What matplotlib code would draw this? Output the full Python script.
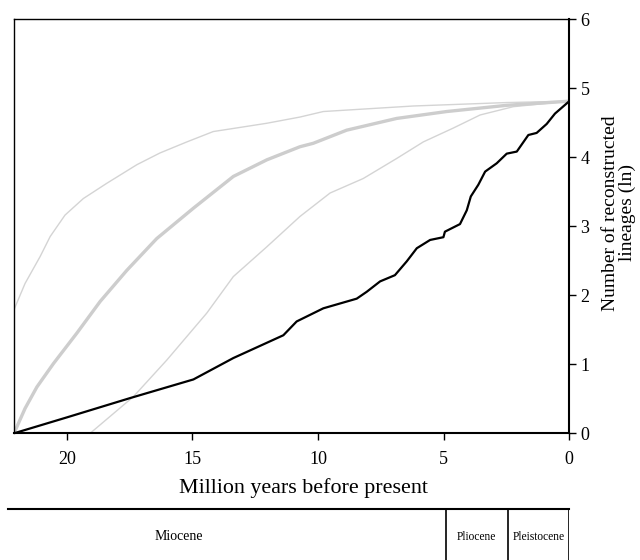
import matplotlib
matplotlib.use("Agg")
import matplotlib.pyplot as plt

plt.rcParams['font.family'] = ['Liberation Serif', 'DejaVu Serif']

# observed lineage-through-time curve (black)
obs_t = [22.1, 20.0, 17.48, 14.96, 13.37, 11.38, 10.85, 9.79, 8.46, 8.06, 7.53, 6.94,
         6.47, 6.07, 5.54, 5.01, 4.95, 4.35, 4.08, 3.92, 3.62, 3.35, 2.89, 2.49, 2.09,
         1.63, 1.30, 0.90, 0.57, 0.0]
obs_y = [0.0, 0.23, 0.51, 0.78, 1.09, 1.42, 1.62, 1.81, 1.95, 2.05, 2.20, 2.29,
         2.49, 2.68, 2.80, 2.84, 2.92, 3.03, 3.23, 3.43, 3.60, 3.79, 3.91, 4.05, 4.08,
         4.32, 4.35, 4.48, 4.63, 4.81]

# simulated upper bound (thin grey)
up_t = [22.1, 21.66, 21.06, 20.66, 20.07, 19.34, 18.41, 17.21, 16.29, 15.22, 14.17,
        13.10, 12.04, 10.72, 9.79, 6.21, 2.49, 0.0]
up_y = [1.79, 2.17, 2.56, 2.85, 3.16, 3.40, 3.62, 3.89, 4.06, 4.22, 4.37,
        4.43, 4.49, 4.58, 4.66, 4.74, 4.79, 4.81]

# simulated median (thick grey)
med_t = [22.1, 21.66, 21.19, 20.53, 19.60, 18.67, 17.61, 16.42, 14.96, 13.37, 12.04,
         10.72, 10.19, 8.86, 6.87, 4.88, 2.49, 0.0]
med_y = [0.0, 0.36, 0.67, 1.01, 1.45, 1.91, 2.36, 2.82, 3.26, 3.72, 3.96,
         4.15, 4.20, 4.39, 4.56, 4.66, 4.75, 4.81]

# simulated lower bound (thin grey)
low_t = [19.07, 17.35, 16.02, 14.43, 13.37, 12.04, 10.72, 9.52, 8.20, 6.87, 5.81,
         4.62, 3.55, 2.23, 0.0]
low_y = [0.0, 0.53, 1.06, 1.74, 2.27, 2.70, 3.14, 3.48, 3.69, 3.98, 4.22,
         4.42, 4.61, 4.73, 4.81]

epochs = ['Miocene', 'Pliocene', 'Pleistocene']
epoch_bounds = [22.32, 4.92, 2.43, 0.0]
epoch_label_t = [15.55, 3.68, 1.2]

fig = plt.figure(figsize=(6.4, 5.6), dpi=100)
ax = fig.add_axes([14 / 640, 1 - 433.3 / 560, 555.3 / 640, 414.3 / 560])

ax.plot(up_t, up_y, color='#d4d4d4', lw=1.0)
ax.plot(low_t, low_y, color='#d4d4d4', lw=1.0)
ax.plot(med_t, med_y, color='#cdcdcd', lw=2.4)
ax.plot(obs_t, obs_y, color='black', lw=1.6)

ax.set_xlim(22.1, 0)
ax.set_ylim(0, 6)
ax.set_xticks([20, 15, 10, 5, 0])
ax.set_yticks(range(7))
ax.yaxis.tick_right()
ax.yaxis.set_label_position('right')
ax.tick_params(direction='out', length=5, width=1, labelsize=13, pad=8)
ax.tick_params(axis='y', pad=3)
for s in ax.spines.values():
    s.set_linewidth(1.0)
ax.spines['right'].set_linewidth(1.5)
ax.spines['bottom'].set_linewidth(1.5)
ax.set_xlabel('Million years before present', fontsize=15.8, labelpad=7)
ax.xaxis.label.set_x(0.522)
ax.set_ylabel('Number of reconstructed\nlineages (ln)', fontsize=14, labelpad=9,
              linespacing=0.95)
ax.yaxis.label.set_y(0.532)

# geological time scale strip
ts = fig.add_axes([8.3 / 640, 0, 561 / 640, 50.7 / 560])
ts.set_xlim(epoch_bounds[0], epoch_bounds[-1])
ts.set_ylim(0, 1)
ts.axis('off')
ts.axhline(1, color='black', lw=1.5, clip_on=False)
for b in epoch_bounds[1:]:
    ts.axvline(b, color='black', lw=1.2)
sizes = [10, 8.3, 8.3]
for i, name in enumerate(epochs):
    ts.text(epoch_label_t[i], 0.46, name, ha='center', va='center', fontsize=sizes[i])

fig.savefig('out.png', dpi=100)
